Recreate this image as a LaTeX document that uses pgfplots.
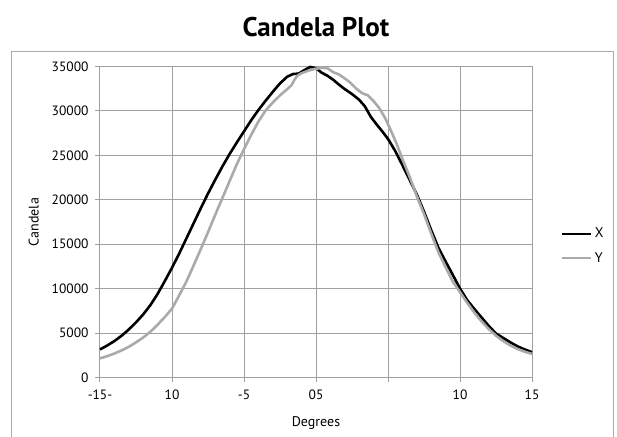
\documentclass[border=0pt]{standalone}
\usepackage{pgfplots}
\pgfplotsset{compat=1.18}
\usepackage{pgfplotstable}
\usepackage{fontspec}
\setmainfont{PT Sans}
\definecolor{gridgray}{RGB}{160,160,160}
\definecolor{seriesgray}{RGB}{170,170,170}
\definecolor{framegray}{RGB}{170,170,170}

\pgfplotstableread{
deg val
-15 3150
-14.5 3600
-14 4100
-13.5 4700
-13 5400
-12.5 6200
-12 7100
-11.5 8150
-11 9400
-10.5 10850
-10 12350
-9.5 13950
-9 15650
-8.5 17350
-8 19050
-7.5 20700
-7 22250
-6.5 23750
-6 25150
-5.5 26450
-5 27700
-4.5 28950
-4 30100
-3.5 31150
-3 32150
-2.5 33100
-2 33850
-1.6 34150
-1.2 34200
-0.8 34600
-0.4 34950
0 34800
0.4 34300
0.8 33950
1.2 33500
1.6 32950
2.0 32450
2.5 31900
3.0 31250
3.4 30500
3.8 29350
4.2 28500
4.6 27700
5.0 26850
5.5 25500
6.0 23900
6.5 22250
7.0 20600
7.5 18670
8.0 16580
8.5 14600
9.0 13050
9.5 11550
10 10000
10.5 8700
11.0 7700
11.5 6750
12.0 5800
12.5 4950
13.0 4450
13.5 3950
14 3500
14.5 3150
15 2850
}\tableX

\pgfplotstableread{
deg val
-15 2150
-14.5 2400
-14 2700
-13.5 3050
-13 3450
-12.5 3950
-12 4500
-11.5 5150
-11 5950
-10.5 6800
-10 7750
-9.5 9250
-9 10800
-8.5 12600
-8 14450
-7.5 16350
-7 18300
-6.5 20200
-6 22100
-5.5 24000
-5 25700
-4.5 27300
-4 28800
-3.5 30050
-3 30950
-2.5 31750
-2 32450
-1.7 32900
-1.5 33500
-1.3 33950
-1.0 34250
-0.5 34550
0 34750
0.4 34850
0.8 34800
1.2 34350
1.6 34100
2.0 33650
2.4 33150
2.8 32500
3.2 32000
3.6 31750
4.0 31100
4.4 30300
4.8 29200
5.2 27800
5.6 26300
6.0 24600
6.5 22600
7.0 20400
7.5 18400
8.0 16200
8.5 14100
9.0 12400
9.5 10800
10.0 9600
10.5 8400
11.0 7300
11.5 6300
12.0 5450
12.5 4700
13.0 4100
13.5 3600
14.0 3200
14.5 2900
15 2650
}\tableY

\begin{document}
\begin{tikzpicture}[x=1bp,y=1bp]
\path[use as bounding box] (-100,-59.5) rectangle (517,377.5);
\draw[framegray, line width=1bp] (-88,-62) -- (-88,325.5) -- (513,325.5) -- (513,-62);
\begin{axis}[
  at={(0,0)}, anchor=south west,
  scale only axis,
  width=432bp, height=311bp,
  xmin=-15, xmax=15, ymin=0, ymax=35000,
  enlargelimits=false,
  axis x line*=bottom, axis y line*=left,
  axis line style={gridgray, line width=1bp},
  xtick={-15,-10,-5,0,5,10,15},
  xticklabels={-15-,10,-5,05,,10,15},
  ytick={0,5000,10000,15000,20000,25000,30000,35000},
  yticklabels={0,5000,10000,15000,20000,25000,30000,35000},
  scaled y ticks=false,
  tick align=outside,
  major tick length=5bp,
  tick style={gridgray, line width=1bp},
  grid=major,
  major grid style={gridgray, line width=1bp},
  ticklabel style={font=\fontsize{13.5bp}{15bp}\selectfont, text=black},
  xticklabel style={yshift=-4bp},
  yticklabel style={xshift=-3bp},
  xlabel={Degrees},
  ylabel={Candela},
  label style={font=\fontsize{14bp}{16bp}\selectfont},
  xlabel style={yshift=-10bp},
  ylabel style={yshift=6bp},
  title={Candela Plot},
  title style={font=\fontsize{27bp}{30bp}\selectfont\bfseries, yshift=20bp},
  legend style={at={(1,0.423)}, anchor=west, xshift=26bp, draw=none, fill=none,
    font=\fontsize{14bp}{16bp}\selectfont, row sep=9bp,
    /tikz/every even column/.append style={column sep=0bp}},
  legend cell align=left,
  legend image code/.code={\draw[#1] (0bp,0bp) -- (29bp,0bp);},
  clip=false,
]
\addplot[black, line width=2.6bp, line join=round] table[x=deg, y=val] {\tableX};
\addlegendentry{X}
\addplot[seriesgray, line width=2.6bp, line join=round] table[x=deg, y=val] {\tableY};
\addlegendentry{Y}
\end{axis}
\end{tikzpicture}
\end{document}
